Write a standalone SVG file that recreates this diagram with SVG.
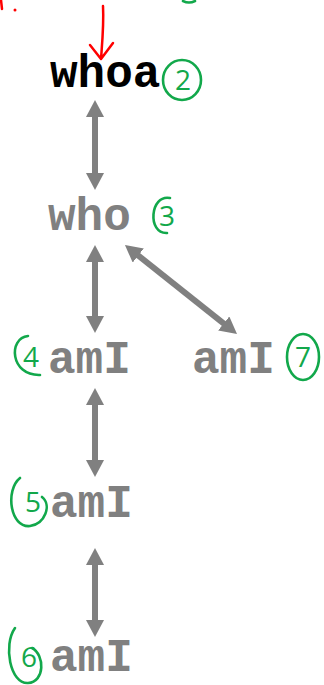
<svg xmlns="http://www.w3.org/2000/svg" width="324" height="685" viewBox="0 0 324 685">
<style>
.t{font-family:"Liberation Mono","Courier New",monospace;font-weight:bold;font-size:46px;fill:#808080}
.k{fill:#000}
.c{fill:none;stroke:#12a84b;stroke-width:2.6;stroke-linecap:round}
.d{font-family:"Open Sans","Liberation Sans",sans-serif;font-weight:400;font-size:28px;fill:#12a84b;text-anchor:middle}
.e{fill:none;stroke:#808080;stroke-width:6}
.r{fill:none;stroke:#ff0000;stroke-width:2.5;stroke-linecap:round;stroke-linejoin:round}
</style>
<defs>
<marker id="ah" markerUnits="userSpaceOnUse" markerWidth="18" markerHeight="18" refX="7" refY="9" orient="auto-start-reverse" viewBox="0 0 18 18">
<path d="M0,0 L17,9 L0,18 z" fill="#808080"/>
</marker>
</defs>
<g id="annotations-red">
<path class="r" d="M1,0 L2,9"/>
<circle cx="15" cy="10" r="1.5" fill="#ff0000"/>
<path class="r" d="M103,6 C104,25 102,45 101,59 M90,45 L101,59 L113,43"/>
</g>
<path class="c" d="M183,1 Q189,4 195,1"/>
<g id="connectors">
<line class="e" x1="95" y1="110" x2="95" y2="180" marker-start="url(#ah)" marker-end="url(#ah)"/>
<line class="e" x1="95" y1="255" x2="95" y2="323" marker-start="url(#ah)" marker-end="url(#ah)"/>
<line class="e" x1="132.8" y1="251.2" x2="229.2" y2="327.8" marker-start="url(#ah)" marker-end="url(#ah)"/>
<line class="e" x1="95" y1="398" x2="95" y2="467" marker-start="url(#ah)" marker-end="url(#ah)"/>
<line class="e" x1="95" y1="558" x2="95" y2="627" marker-start="url(#ah)" marker-end="url(#ah)"/>
</g>
<g id="n-whoa">
<text class="t k" x="50" y="87">whoa</text>
<ellipse class="c" cx="182" cy="80" rx="19" ry="20"/>
<text class="d" x="183" y="90">2</text>
</g>
<g id="n-who">
<text class="t" x="48" y="230">who</text>
<path class="c" d="M170,198 C150,194 147,234 167,233"/>
<text class="d" x="167" y="226">3</text>
</g>
<g id="n-amI-4">
<text class="t" x="48" y="373">amI</text>
<path class="c" d="M28,336 C8,338 10,376 40,375"/>
<text class="d" x="31" y="367">4</text>
</g>
<g id="n-amI-7">
<text class="t" x="192" y="373">amI</text>
<ellipse class="c" cx="303" cy="357" rx="16" ry="23"/>
<text class="d" x="303" y="367">7</text>
</g>
<g id="n-amI-5">
<text class="t" x="50" y="517">amI</text>
<path class="c" d="M20,478 C5,490 10,528 30,526 C45,524 52,505 42,497"/>
<text class="d" x="33" y="512">5</text>
</g>
<g id="n-amI-6">
<text class="t" x="50" y="671">amI</text>
<path class="c" d="M15,628 C3,645 10,684 28,683 C45,682 45,655 32,648"/>
<text class="d" x="29" y="667">6</text>
</g>
</svg>
